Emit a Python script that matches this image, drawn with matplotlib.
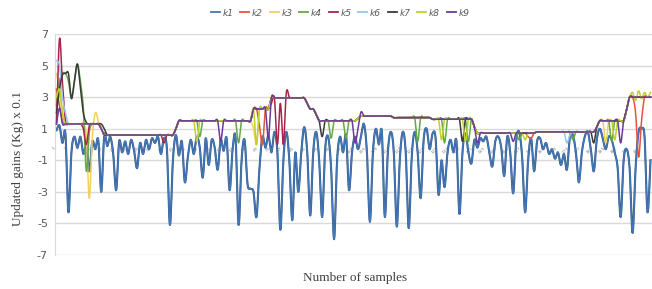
import matplotlib
matplotlib.use("Agg")
import matplotlib.pyplot as plt
import matplotlib.patheffects as pe
import numpy as np

# ---------------- data ----------------
series_names = ["k1", "k2", "k3", "k4", "k5", "k6", "k7", "k8", "k9"]
series_colors = ["#4677B4", "#E8533A", "#F2D060", "#66A847", "#A8254A",
                 "#96C6EE", "#3A3A3A", "#BFD12C", "#6B3A9A"]

k1 = [
    0.9, 1.2, 0.1, 0.7, -4.3, -0.5, 0.5, -0.2, 0.5, -0.6,
    0.0, -1.7, 0.2, -0.3, 0.3, -3.0, 0.6, -0.1, 0.5, -0.6,
    -2.9, 0.2, -0.5, 0.2, -0.6, 0.3, -0.4, -1.5, 0.1, -0.6,
    0.3, -0.3, 0.4, 0.1, 0.5, -0.6, 0.4, -0.3, -5.1, -1.0,
    0.6, -0.7, 0.2, -2.4, -0.8, 0.3, -0.6, 0.5, -0.2, -2.1,
    0.4, -1.3, 0.3, -0.2, -1.6, 0.3, -0.4, 0.4, -2.9, -0.3,
    0.4, -5.1, -1.0, 0.3, -2.5, -2.8, -3.0, -4.6, -1.5, 0.5,
    -0.2, 0.6, -0.5, 0.8, -0.5, -5.4, -1.0, 0.8, -1.0, -4.8,
    -0.5, -3.0, -0.5, 1.1, -0.5, -4.5, -0.5, 0.8, -1.0, -4.6,
    -0.3, 0.5, -1.5, -6.0, -1.0, 0.5, -0.5, 0.6, -2.9, -0.5,
    0.5, -0.3, 0.5, 1.3, -0.5, -4.9, -0.5, 1.0, 0.0, 0.8,
    -4.6, -0.5, 0.8, -0.5, -5.2, -1.0, 0.8, -0.5, -5.3, -0.8,
    0.8, -0.5, -3.4, 0.3, 1.0, -0.3, 0.7, 0.4, -3.2, -1.0,
    -2.7, -0.5, 0.3, -0.5, 0.2, -4.4, -0.5, 0.7, -0.5, -1.2,
    0.3, -0.2, 0.4, 0.2, 0.5, -0.5, -1.4, 0.2, 0.5, -0.2,
    -2.0, 0.5, -0.5, -3.1, 0.2, 0.8, -0.8, -4.3, -1.0, 0.4,
    -1.7, 0.2, 0.4, -0.3, 0.1, -0.6, -0.3, -0.9, -0.5, -1.3,
    -0.6, -1.6, 0.5, 0.6, -0.5, -2.4, -0.5, 0.5, 0.8, -0.3,
    -1.7, 0.3, 1.0, 0.4, -0.3, 0.5, 0.3, -0.5, -1.5, -4.6,
    -1.0, -0.3, -1.5, -5.6, -1.5, 0.8, 1.0, 0.5, -4.3, -1.0,
]

# common staircase level shared by k2..k9 (one value per sample)
stair = [
    1.3, 1.3, 1.3, 1.3, 1.3, 1.3, 1.3, 1.3, 1.3, 1.3,
    1.3, 1.3, 1.3, 1.3, 1.3, 1.0, 0.6, 0.6, 0.6, 0.6,
    0.6, 0.6, 0.6, 0.6, 0.6, 0.6, 0.6, 0.6, 0.6, 0.6,
    0.6, 0.6, 0.6, 0.6, 0.6, 0.6, 0.6, 0.6, 0.6, 0.6,
    1.0, 1.5, 1.5, 1.5, 1.5, 1.5, 1.5, 1.5, 1.5, 1.5,
    1.5, 1.5, 1.5, 1.5, 1.5, 1.5, 1.5, 1.5, 1.5, 1.5,
    1.5, 1.5, 1.5, 1.5, 1.5, 1.5, 2.25, 2.25, 2.25, 2.25,
    2.25, 2.25, 2.95, 2.95, 2.95, 2.95, 2.95, 2.95, 2.95, 2.95,
    2.95, 2.95, 2.95, 2.95, 2.6, 2.25, 2.25, 1.9, 1.5, 1.5,
    1.5, 1.5, 1.5, 1.5, 1.5, 1.5, 1.5, 1.5, 1.5, 1.5,
    1.5, 1.65, 1.8, 1.8, 1.8, 1.8, 1.8, 1.8, 1.8, 1.8,
    1.8, 1.8, 1.8, 1.7, 1.7, 1.7, 1.7, 1.7, 1.7, 1.7,
    1.7, 1.7, 1.7, 1.7, 1.7, 1.7, 1.6, 1.6, 1.6, 1.6,
    1.6, 1.6, 1.6, 1.6, 1.6, 1.6, 1.6, 1.6, 1.6, 1.6,
    1.1, 0.72, 0.72, 0.72, 0.72, 0.72, 0.72, 0.72, 0.72, 0.72,
    0.72, 0.72, 0.72, 0.72, 0.72, 0.72, 0.72, 0.72, 0.72, 0.72,
    0.72, 0.8, 0.8, 0.8, 0.8, 0.8, 0.8, 0.8, 0.8, 0.8,
    0.8, 0.8, 0.8, 0.8, 0.8, 0.8, 0.8, 0.8, 0.8, 0.8,
    0.8, 1.1, 1.5, 1.5, 1.5, 1.5, 1.5, 1.5, 1.5, 1.5,
    1.5, 2.2, 3.0, 3.0, 3.0, 3.0, 3.0, 3.0, 3.0, 3.0,
]

# where each series leaves the common staircase: {sample index: value}
k2_dev = {0: 3.5, 1: 2.5, 2: 1.5, 68: 1.2, 69: 0.0, 70: 2.25,
          158: 0.5, 159: 0.4, 194: 2.0, 195: -0.8, 196: 1.5}
k3_dev = {0: 4.5, 1: 3.6, 2: 2.0, 10: 0.5, 11: -3.4, 12: 0.5, 13: 2.0,
          14: 1.5, 66: 1.0, 67: 0.0, 68: 2.25, 184: 0.1, 185: 1.5}
k4_dev = {0: 2.5, 1: 4.0, 2: 4.5, 3: 4.5, 4: 4.0, 5: 3.0, 6: 4.0, 7: 5.1,
          8: 4.0, 9: 2.3, 10: -1.7, 11: 0.8, 48: 0.5, 61: 0.1, 92: 0.4,
          97: 0.4, 121: 0.2, 130: 0.1, 138: 0.2, 155: 0.3, 173: 0.3, 186: 0.2}
k5_dev = {0: 1.3, 1: 6.7, 2: 3.9, 3: 1.5, 9: 1.0, 10: 0.0, 11: 1.2, 36: 0.1,
          72: 2.6, 74: 0.0, 75: 2.6, 76: 0.0, 77: 3.3, 78: 3.0}
k6_dev = {0: 5.3, 1: 5.0, 2: 3.0, 3: 2.0, 171: 0.1, 172: 0.6}
k7_dev = {0: 2.0, 1: 3.5, 2: 4.4, 3: 4.5, 4: 4.5, 5: 2.9, 6: 4.0, 7: 5.1,
          8: 3.6, 9: 2.0, 10: 1.4, 15: 1.3, 16: 1.0, 89: 0.5, 136: 0.2, 180: 0.1}
k8_dev = {0: 3.0, 1: 3.5, 2: 2.0, 47: 0.2, 67: 0.0, 129: 0.3, 137: 0.2,
          157: 0.3, 187: 0.3, 193: 3.3, 194: 2.8, 195: 3.4, 196: 2.9,
          197: 3.3, 198: 3.0, 199: 3.3}
k9_dev = {0: 1.3, 1: 2.3, 2: 1.3, 55: 0.2, 71: 0.4, 100: 0.1, 101: 1.0,
          102: 2.05, 141: 0.1, 153: 0.2, 189: 0.1}

y_ticks = [-7, -5, -3, -1, 1, 3, 5, 7]
x_label = "Number of samples"
y_label = "Updated gains (Kg) x 0.1"


def apply_dev(dev):
    vals = list(stair)
    for idx, v in dev.items():
        vals[idx] = v
    return vals


def smooth_path(xs, ys, steps=8):
    """Render-time smoothing (like a spreadsheet 'smoothed line'):
    cubic Bezier through every data point."""
    xs = np.asarray(xs, float)
    ys = np.asarray(ys, float)
    px = np.concatenate([[xs[0]], xs, [xs[-1]]])
    py = np.concatenate([[ys[0]], ys, [ys[-1]]])
    t = np.linspace(0, 1, steps, endpoint=False)
    out_x, out_y = [], []
    for i in range(1, len(px) - 2):
        p0x, p1x, p2x, p3x = px[i - 1], px[i], px[i + 1], px[i + 2]
        p0y, p1y, p2y, p3y = py[i - 1], py[i], py[i + 1], py[i + 2]
        c1x, c1y = p1x + (p2x - p0x) / 6, p1y + (p2y - p0y) / 6
        c2x, c2y = p2x - (p3x - p1x) / 6, p2y - (p3y - p1y) / 6
        b0 = (1 - t) ** 3
        b1 = 3 * (1 - t) ** 2 * t
        b2 = 3 * (1 - t) * t ** 2
        b3 = t ** 3
        out_x.append(b0 * p1x + b1 * c1x + b2 * c2x + b3 * p2x)
        out_y.append(b0 * p1y + b1 * c1y + b2 * c2y + b3 * p2y)
    out_x.append([xs[-1]])
    out_y.append([ys[-1]])
    return np.concatenate(out_x), np.concatenate(out_y)


all_series = [k1] + [apply_dev(d) for d in
                     (k2_dev, k3_dev, k4_dev, k5_dev, k6_dev, k7_dev, k8_dev, k9_dev)]
n = len(k1)
x = np.arange(1, n + 1)
x_tick_pos = list(range(1, n + 1, 4))
x_tick_labels = [str(v) for v in x_tick_pos]

# ---------------- figure ----------------
W, H = 652, 289
fig = plt.figure(figsize=(W / 100, H / 100), dpi=100)
ax = fig.add_axes([55 / W, 1 - 255 / H, (W - 55) / W, (255 - 34) / H])

for i, (name, col, vals) in enumerate(zip(series_names, series_colors, all_series)):
    sx, sy = smooth_path(x, vals)
    if i == 0:
        ax.plot(sx, sy, color=col, lw=1.0, label=name, solid_joinstyle="round",
                zorder=2, path_effects=[pe.Stroke(linewidth=1.5, foreground="#2E5A8E"),
                                        pe.Normal()])
    else:
        ax.plot(sx, sy, color=col, lw=1.1, label=name, solid_joinstyle="round",
                zorder=2 + i)

ax.set_xlim(0.5, n + 0.5)
ax.set_ylim(-7, 7)
ax.set_yticks(y_ticks)
ax.set_yticklabels([str(t) for t in y_ticks])
ax.yaxis.grid(True, color="#D9D9D9", lw=1.0)
ax.set_axisbelow(True)
for s in ("top", "right"):
    ax.spines[s].set_visible(False)
ax.spines["left"].set_color("#D9D9D9")
ax.spines["bottom"].set_position(("data", 0))
ax.spines["bottom"].set_color("none")

ax.set_xticks(x_tick_pos)
ax.set_xticklabels(x_tick_labels, rotation=45, ha="right", va="top",
                   fontsize=3.2, color="#8C8C8C")
ax.tick_params(axis="x", length=0, pad=1)
ax.tick_params(axis="y", length=0, pad=5, labelsize=8, labelcolor="#595959")

fig.text(18 / W, 1 - 158 / H, y_label, rotation=90, ha="center", va="center",
         fontsize=9.5, family="Liberation Serif", color="#404040")
fig.text(355 / W, 1 - 278 / H, x_label, ha="center", va="center",
         fontsize=9.5, family="Liberation Serif", color="#404040")

leg = fig.legend(loc="center", bbox_to_anchor=(340 / W, 1 - 13 / H), ncol=9,
                 frameon=False, handlelength=1.0, handletextpad=0.3,
                 columnspacing=0.75, prop={"style": "italic", "size": 6.5},
                 labelcolor="#595959")
for h in leg.legend_handles:
    h.set_path_effects([])
    h.set_linewidth(1.3)

fig.savefig("out.png", dpi=100)
